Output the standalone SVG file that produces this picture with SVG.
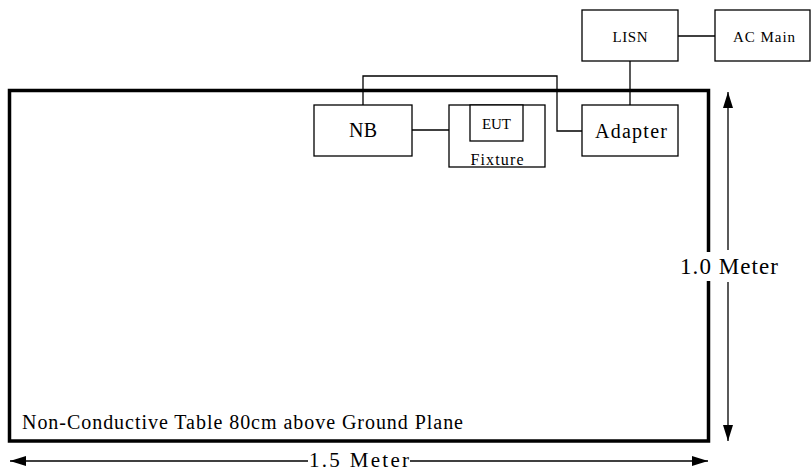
<svg xmlns="http://www.w3.org/2000/svg" width="811" height="471" viewBox="0 0 811 471">
<style>
.box{fill:#fff;stroke:#000;stroke-width:1.3}
.ln{fill:none;stroke:#000;stroke-width:1.3}
.t{font-family:"Liberation Serif","DejaVu Serif",serif;fill:#000;text-anchor:middle}
</style>
<defs>
<marker id="ah" markerUnits="userSpaceOnUse" markerWidth="18" markerHeight="12" refX="16" refY="5" orient="auto">
<path d="M0,0 L16,5 L0,10 Z" fill="#000"/>
</marker>
</defs>
<rect id="table" x="9.5" y="90.5" width="699" height="350.5" fill="none" stroke="#000" stroke-width="3.5"/>
<text class="t" x="22" y="429" style="text-anchor:start" font-size="20" textLength="441">Non-Conductive Table 80cm above Ground Plane</text>
<g id="connectors">
<path class="ln" d="M678,36 H715"/>
<path class="ln" d="M630,61 V105"/>
<path class="ln" d="M412,130 H449"/>
<path class="ln" d="M363,105 V76 H557 V131 H582"/>
</g>
<g id="lisn"><rect class="box" x="582" y="10" width="96" height="51"/><text class="t" x="630" y="42" font-size="15" textLength="35">LISN</text></g>
<g id="acmain"><rect class="box" x="715" y="10" width="95" height="51"/><text class="t" x="764" y="42" font-size="15" textLength="62">AC Main</text></g>
<g id="nb"><rect class="box" x="314" y="105" width="98" height="51"/><text class="t" x="363" y="137" font-size="20" textLength="28">NB</text></g>
<g id="fixture"><rect class="box" x="449" y="105" width="96" height="62"/><text class="t" x="497" y="165" font-size="16" textLength="53">Fixture</text></g>
<g id="eut"><rect class="box" x="470" y="105" width="53" height="36"/><text class="t" x="496.5" y="129" font-size="15" textLength="29">EUT</text></g>
<g id="adapter"><rect class="box" x="582" y="105" width="96" height="51"/><text class="t" x="631" y="138" font-size="20" textLength="72">Adapter</text></g>
<g id="dim-v">
<line class="ln" x1="728" y1="250" x2="728" y2="92" marker-end="url(#ah)"/>
<line class="ln" x1="728" y1="282" x2="728" y2="441" marker-end="url(#ah)"/>
<rect x="678" y="252" width="102" height="29" fill="#fff"/>
<text class="t" x="729" y="274" font-size="23" textLength="98">1.0 Meter</text>
</g>
<g id="dim-h">
<line class="ln" x1="308" y1="461" x2="10" y2="461" marker-end="url(#ah)"/>
<line class="ln" x1="410" y1="461" x2="708" y2="461" marker-end="url(#ah)"/>
<text class="t" x="359" y="467" font-size="21" textLength="100">1.5 Meter</text>
</g>
</svg>
